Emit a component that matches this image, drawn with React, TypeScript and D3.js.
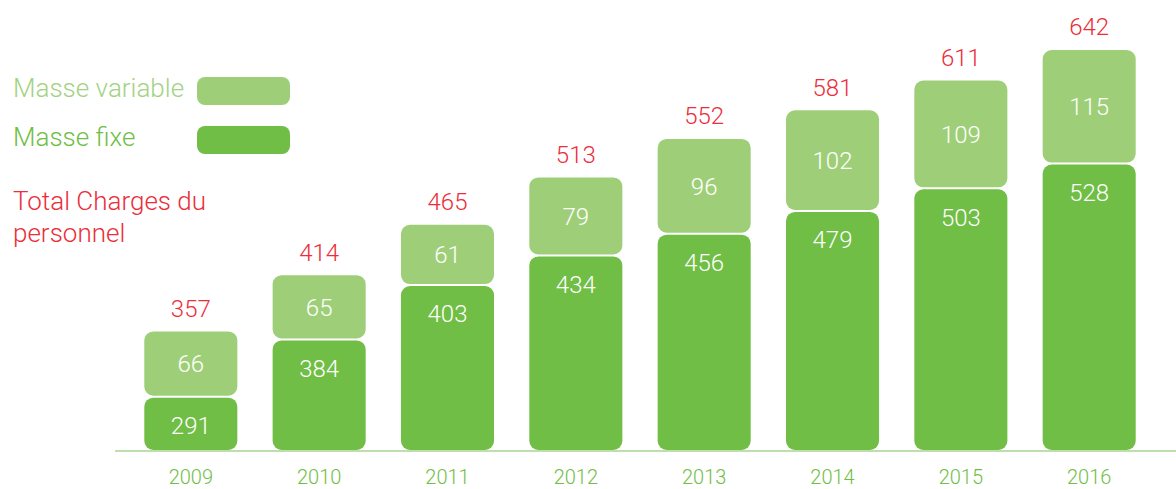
import * as d3 from "d3";

const years = ["2009", "2010", "2011", "2012", "2013", "2014", "2015", "2016"];
const masseFixe = [291, 384, 403, 434, 456, 479, 503, 528];
const masseVariable = [66, 65, 61, 79, 96, 102, 109, 115];
const totals = [357, 414, 465, 513, 552, 581, 611, 642];

const W = 1176;
const H = 489;
const FONT = "Roboto, 'Liberation Sans', Arial, sans-serif";

const LIGHT = "#9ecf78";
const DARK = "#70be45";
const RED = "#ec2d3a";

export default function App() {
  const x = d3.scaleBand<string>().domain(years).range([109, 1171]).padding(0.275);
  // the original chart does not start at zero
  const y = d3.scaleLinear().domain([237, 642]).range([450, 50]);
  const bw = x.bandwidth();

  return (
    <svg width={W} height={H} style={{ position: "absolute", left: 0, top: 0 }} fontFamily={FONT}>
      {/* legend */}
      <text x={13} y={97} fontSize={26} fontWeight={300} fill="#a3d283">Masse variable</text>
      <rect x={197} y={77} width={93} height={28} rx={8} fill={LIGHT} />
      <text x={13} y={146} fontSize={26} fontWeight={300} fill={DARK}>Masse fixe</text>
      <rect x={197} y={126} width={93} height={28} rx={8} fill={DARK} />
      <text x={13} y={210} fontSize={26} fontWeight={300} fill={RED}>Total Charges du</text>
      <text x={13} y={242} fontSize={26} fontWeight={300} fill={RED}>personnel</text>

      {years.map((yr, i) => {
        const x0 = x(yr)!;
        const cx = x0 + bw / 2;
        const split = y(totals[i] - masseVariable[i]);
        const top = y(totals[i]);
        const base = y.range()[0];
        return (
          <g key={yr}>
            <rect x={x0} y={top} width={bw} height={split - top - 1} rx={9} fill={LIGHT} />
            <rect x={x0} y={split + 1} width={bw} height={base - split - 1} rx={9} fill={DARK} />
            <text x={cx} y={(top + split) / 2} dy="0.35em" textAnchor="middle" fontSize={24} fontWeight={300} fill="#fff">
              {masseVariable[i]}
            </text>
            <text x={cx} y={split + 29} dy="0.35em" textAnchor="middle" fontSize={24} fontWeight={300} fill="#fff">
              {masseFixe[i]}
            </text>
            <text x={cx} y={top - 23} dy="0.35em" textAnchor="middle" fontSize={24} fontWeight={300} fill={RED}>
              {totals[i]}
            </text>
            <text x={cx} y={477} dy="0.35em" textAnchor="middle" fontSize={20} fontWeight={300} fill={DARK}>
              {yr}
            </text>
          </g>
        );
      })}

      <line x1={115} x2={W} y1={451} y2={451} stroke="#7cbf5a" strokeWidth={1} />
    </svg>
  );
}
